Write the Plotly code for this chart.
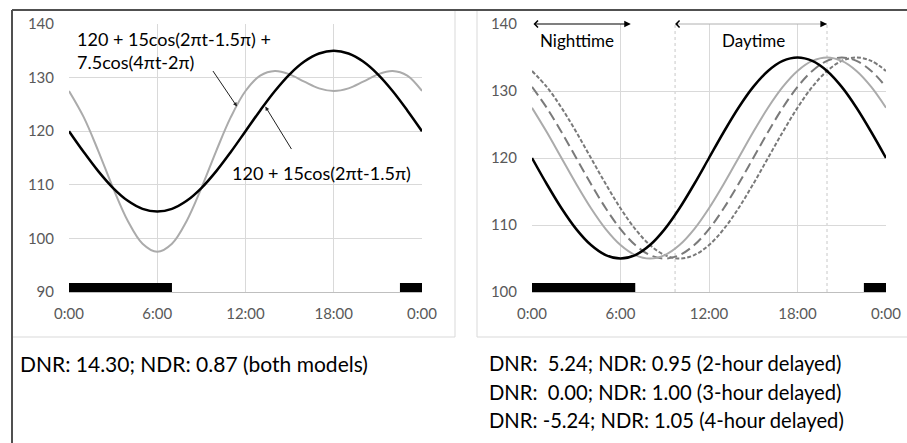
import plotly.graph_objects as go

# ---------------- data ----------------
hours = list(range(25))
tick_vals = [0, 6, 12, 18, 24]
tick_text = ["0:00", "6:00", "12:00", "18:00", "0:00"]
left_y_ticks = [90, 100, 110, 120, 130, 140]
right_y_ticks = [100, 110, 120, 130, 140]

# 120 + 15cos(2πt-1.5π)
bp_single = [120, 116.12, 112.5, 109.39, 107.01, 105.51, 105, 105.51, 107.01, 109.39,
             112.5, 116.12, 120, 123.88, 127.5, 130.61, 132.99, 134.49, 135, 134.49,
             132.99, 130.61, 127.5, 123.88, 120]
# 120 + 15cos(2πt-1.5π) + 7.5cos(4πt-2π)
bp_double = [127.5, 122.62, 116.25, 109.39, 103.26, 99.01, 97.5, 99.01, 103.26, 109.39,
             116.25, 122.62, 127.5, 130.38, 131.25, 130.61, 129.24, 127.99, 127.5, 127.99,
             129.24, 130.61, 131.25, 130.38, 127.5]
# delayed versions
bp_delay2 = [127.5, 123.88, 120, 116.12, 112.5, 109.39, 107.01, 105.51, 105, 105.51,
             107.01, 109.39, 112.5, 116.12, 120, 123.88, 127.5, 130.61, 132.99, 134.49,
             135, 134.49, 132.99, 130.61, 127.5]
bp_delay3 = [130.61, 127.5, 123.88, 120, 116.12, 112.5, 109.39, 107.01, 105.51, 105,
             105.51, 107.01, 109.39, 112.5, 116.12, 120, 123.88, 127.5, 130.61, 132.99,
             134.49, 135, 134.49, 132.99, 130.61]
bp_delay4 = [132.99, 130.61, 127.5, 123.88, 120, 116.12, 112.5, 109.39, 107.01, 105.51,
             105, 105.51, 107.01, 109.39, 112.5, 116.12, 120, 123.88, 127.5, 130.61,
             132.99, 134.49, 135, 134.49, 132.99]

sleep_starts = [0, 22.5]
sleep_ends = [7.0, 24]
night_span = [0, 6.7]
day_span = [9.7, 20.0]

formula_double = "120 + 15cos(2πt-1.5π) +<br>7.5cos(4πt-2π)"
formula_single = "120 + 15cos(2πt-1.5π)"
left_caption = "DNR: 14.30; NDR: 0.87 (both models)"
right_captions = ["DNR:  5.24; NDR: 0.95 (2-hour delayed)",
                  "DNR:  0.00; NDR: 1.00 (3-hour delayed)",
                  "DNR: -5.24; NDR: 1.05 (4-hour delayed)"]

# ---------------- layout helpers ----------------
W, H = 907, 443
FONT = "Lato"
def px(p):
    return p / W
def py(p):
    return 1 - p / H

BLACK = "#000000"
LGRAY = "#ababab"
DGRAY = "#7a7a7a"

fig = go.Figure()

# left panel
fig.add_trace(go.Scatter(x=hours, y=bp_double, mode="lines", line=dict(color=LGRAY, width=2, shape="spline"),
                         xaxis="x", yaxis="y", hoverinfo="skip"))
fig.add_trace(go.Scatter(x=hours, y=bp_single, mode="lines", line=dict(color=BLACK, width=2.5, shape="spline"),
                         xaxis="x", yaxis="y", hoverinfo="skip"))
# right panel
fig.add_trace(go.Scatter(x=hours, y=bp_delay4, mode="lines",
                         line=dict(color=DGRAY, width=2, shape="spline", dash="4px,2px"),
                         xaxis="x2", yaxis="y2", hoverinfo="skip"))
fig.add_trace(go.Scatter(x=hours, y=bp_delay3, mode="lines",
                         line=dict(color=DGRAY, width=2, shape="spline", dash="10px,5px"),
                         xaxis="x2", yaxis="y2", hoverinfo="skip"))
fig.add_trace(go.Scatter(x=hours, y=bp_delay2, mode="lines", line=dict(color=LGRAY, width=2, shape="spline"),
                         xaxis="x2", yaxis="y2", hoverinfo="skip"))
fig.add_trace(go.Scatter(x=hours, y=bp_single, mode="lines", line=dict(color=BLACK, width=2.5, shape="spline"),
                         xaxis="x2", yaxis="y2", hoverinfo="skip"))

ydom = [py(292), py(24)]
tickfont = dict(family=FONT, size=15, color="#595959")
xcommon = dict(range=[0, 24], tickvals=tick_vals, ticktext=tick_text, showgrid=True, gridcolor="#d9d9d9",
               gridwidth=1, zeroline=False, showline=True, linecolor="#bfbfbf", linewidth=1, ticks="",
               tickfont=tickfont, ticklabelstandoff=8, fixedrange=True, automargin=False)
ycommon = dict(showgrid=True, gridcolor="#d9d9d9", gridwidth=1, zeroline=False, showline=False, ticks="",
               tickfont=tickfont, ticklabelstandoff=14, fixedrange=True, automargin=False)

fig.update_layout(
    width=W, height=H, margin=dict(l=0, r=0, t=0, b=0, autoexpand=False),
    paper_bgcolor="white", plot_bgcolor="white", showlegend=False,
    font=dict(family=FONT),
    xaxis=dict(domain=[px(69), px(422)], anchor="y", **xcommon),
    yaxis=dict(domain=ydom, anchor="x", range=[90, 140], tickvals=left_y_ticks, **ycommon),
    xaxis2=dict(domain=[px(532), px(886)], anchor="y2", **xcommon),
    yaxis2=dict(domain=ydom, anchor="x2", range=[100, 140], tickvals=right_y_ticks, **ycommon),
)

shapes = []
# chart boxes
shapes.append(dict(type="rect", xref="paper", yref="paper", x0=px(12), x1=px(455), y0=py(337), y1=py(10),
                   line=dict(color="#d9d9d9", width=1), layer="below"))
shapes.append(dict(type="rect", xref="paper", yref="paper", x0=px(477), x1=px(912), y0=py(337), y1=py(10),
                   line=dict(color="#d9d9d9", width=1), layer="below"))
# outer frame
shapes.append(dict(type="line", xref="paper", yref="paper", x0=px(12), x1=px(907), y0=py(10), y1=py(10),
                   line=dict(color="#505050", width=2)))
shapes.append(dict(type="line", xref="paper", yref="paper", x0=px(12), x1=px(12), y0=py(10), y1=py(445),
                   line=dict(color="#505050", width=2)))
# sleep bars
for xr, yr, base in [("x", "y", 90), ("x2", "y2", 100)]:
    for s, e in zip(sleep_starts, sleep_ends):
        shapes.append(dict(type="rect", xref=xr, yref=yr, x0=s, x1=e, ysizemode="pixel", yanchor=base,
                           y0=-2, y1=9, fillcolor="black", line=dict(width=0), layer="above"))
# dotted day boundaries (right panel)
for d in day_span:
    shapes.append(dict(type="line", xref="x2", yref="y2 domain", x0=d, x1=d, y0=0, y1=1,
                       line=dict(color="#c8c8c8", width=1, dash="dot"), layer="below"))
fig.update_layout(shapes=shapes)

ann = []
txt = dict(family=FONT, size=18, color="black")
ann.append(dict(xref="paper", yref="paper", x=px(75), y=py(51), xanchor="left", yanchor="middle",
                text=formula_double, showarrow=False, align="left", font=txt))
ann.append(dict(xref="paper", yref="paper", x=px(230), y=py(173), xanchor="left", yanchor="middle",
                text=formula_single, showarrow=False, align="left", font=txt))
# pointer arrows (left)
ann.append(dict(xref="x", yref="y", x=11.42, y=124.6, ax=-25, ay=-37, text="", showarrow=True,
                arrowhead=2, arrowsize=0.8, arrowwidth=1, arrowcolor="#202020"))
ann.append(dict(xref="x", yref="y", x=13.35, y=124.6, ax=27, ay=44, text="", showarrow=True,
                arrowhead=2, arrowsize=0.8, arrowwidth=1, arrowcolor="#202020"))
# Nighttime / Daytime arrows (right)
ann.append(dict(xref="x2", yref="y2", x=night_span[1], y=140, axref="x2", ayref="y2", ax=night_span[0], ay=140,
                text="", showarrow=True, arrowside="end+start", arrowhead=2, startarrowhead=4,
                arrowsize=1.1, startarrowsize=1.1, arrowwidth=1.2, arrowcolor="black"))
ann.append(dict(xref="x2", yref="y2", x=day_span[1], y=140, axref="x2", ayref="y2", ax=day_span[0], ay=140,
                text="", showarrow=True, arrowside="none", arrowwidth=1, arrowcolor="#b0b0b0"))
ann.append(dict(xref="x2", yref="y2", x=day_span[1], y=140, axref="x2", ayref="y2", ax=day_span[1] - 0.3, ay=140,
                text="", showarrow=True, arrowhead=2, arrowsize=1.1, arrowwidth=1.2, arrowcolor="black"))
ann.append(dict(xref="x2", yref="y2", x=day_span[0], y=140, axref="x2", ayref="y2", ax=day_span[0] + 0.3, ay=140,
                text="", showarrow=True, arrowhead=4, arrowsize=1.1, arrowwidth=1.2, arrowcolor="black"))
lab = dict(family=FONT, size=17, color="black")
ann.append(dict(xref="paper", yref="paper", x=px(538), y=py(41), xanchor="left", yanchor="middle",
                text="Nighttime", showarrow=False, font=lab))
ann.append(dict(xref="paper", yref="paper", x=px(720), y=py(41), xanchor="left", yanchor="middle",
                text="Daytime", showarrow=False, font=lab))
# captions
ann.append(dict(xref="paper", yref="paper", x=px(18), y=py(363), xanchor="left", yanchor="middle",
                text=left_caption, showarrow=False, font=dict(family=FONT, size=21, color="black")))
for i, c in enumerate(right_captions):
    ann.append(dict(xref="paper", yref="paper", x=px(487), y=py(363 + 28.5 * i), xanchor="left",
                    yanchor="middle", text=c, showarrow=False, font=dict(family=FONT, size=20.2, color="black")))
fig.update_layout(annotations=ann)

fig.write_html("out.html", config={"displayModeBar": False},
               post_script="document.body.style.margin='0';document.body.style.overflow='hidden';")
